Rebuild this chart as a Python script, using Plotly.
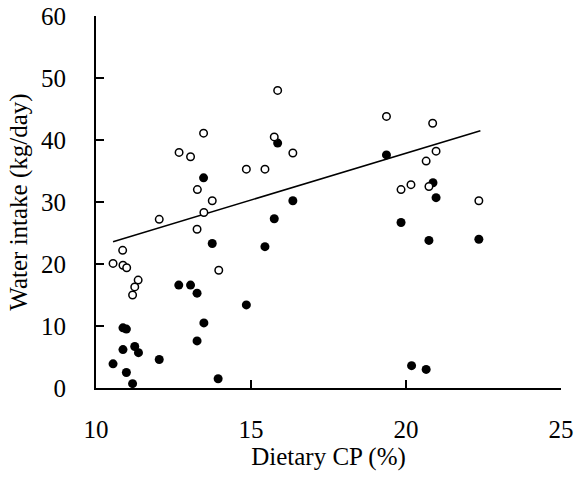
import plotly.graph_objects as go

# Open circles
open_x = [10.55, 10.86, 10.87, 10.99, 11.36, 11.25, 11.18, 12.04, 13.26, 13.48,
          13.75, 13.96, 13.27, 15.86, 13.47, 12.68, 13.05, 15.75, 16.35, 14.85,
          15.45, 19.37, 20.86, 20.97, 20.65, 20.16, 19.84, 20.74, 22.35]
open_y = [20.1, 22.2, 19.8, 19.4, 17.4, 16.3, 15.0, 27.2, 25.6, 28.3,
          30.2, 19.0, 32.0, 48.0, 41.1, 38.0, 37.3, 40.5, 37.9, 35.3,
          35.3, 43.8, 42.7, 38.2, 36.6, 32.8, 32.0, 32.5, 30.2]

# Filled circles
filled_x = [10.55, 10.87, 10.98, 10.87, 11.25, 11.37, 10.98, 11.18, 12.04, 12.67,
            13.05, 13.26, 13.48, 13.26, 13.94, 14.85, 13.75, 15.86, 13.47, 16.35,
            15.75, 15.45, 19.37, 20.87, 20.97, 19.84, 20.74, 22.35, 20.18, 20.65]
filled_y = [3.9, 9.7, 9.5, 6.2, 6.7, 5.7, 2.5, 0.7, 4.6, 16.6,
            16.6, 15.3, 10.5, 7.6, 1.5, 13.4, 23.3, 39.5, 33.9, 30.2,
            27.3, 22.8, 37.6, 33.1, 30.7, 26.7, 23.8, 24.0, 3.6, 3.0]

# Regression line
fit_x = [10.55, 22.40]
fit_y = [23.6, 41.5]

x_ticks = [10, 15, 20, 25]
y_ticks = [0, 10, 20, 30, 40, 50, 60]
x_range = [10, 25]
y_range = [0, 60]

FONT = "Liberation Serif, Times New Roman, serif"

W, H = 576, 483
M = dict(l=96, r=15, t=16, b=95)

fig = go.Figure()
fig.add_trace(go.Scatter(x=fit_x, y=fit_y, mode="lines",
                         line=dict(color="black", width=1.5), showlegend=False))
fig.add_trace(go.Scatter(x=filled_x, y=filled_y, mode="markers",
                         marker=dict(symbol="circle", size=9, color="black",
                                     line=dict(width=0)),
                         showlegend=False, cliponaxis=False))
fig.add_trace(go.Scatter(x=open_x, y=open_y, mode="markers",
                         marker=dict(symbol="circle", size=7.5, color="white",
                                     line=dict(color="black", width=1.5)),
                         showlegend=False, cliponaxis=False))

common = dict(showgrid=False, zeroline=False, automargin=False)

fig.update_layout(
    width=W, height=H,
    margin=M,
    paper_bgcolor="white", plot_bgcolor="white",
    font=dict(family=FONT, size=25, color="black"),
    xaxis=dict(range=x_range, tickvals=x_ticks, ticks="inside", ticklen=8,
               tickwidth=2, tickcolor="black", ticklabelstandoff=18,
               showline=True, linecolor="black", linewidth=2,
               title=dict(text="Dietary CP (%)", standoff=4,
                          font=dict(family=FONT, size=25)), **common),
    yaxis=dict(range=y_range, tickvals=y_ticks, ticks="inside", ticklen=8,
               tickwidth=2, tickcolor="black", ticklabelstandoff=23,
               showline=True, linecolor="black", linewidth=2,
               title=dict(text="Water intake (kg/day)", standoff=6,
                          font=dict(family=FONT, size=25)), **common),
)

fig.write_html("out.html", config={"displayModeBar": False},
               post_script="document.body.style.margin='0';")
